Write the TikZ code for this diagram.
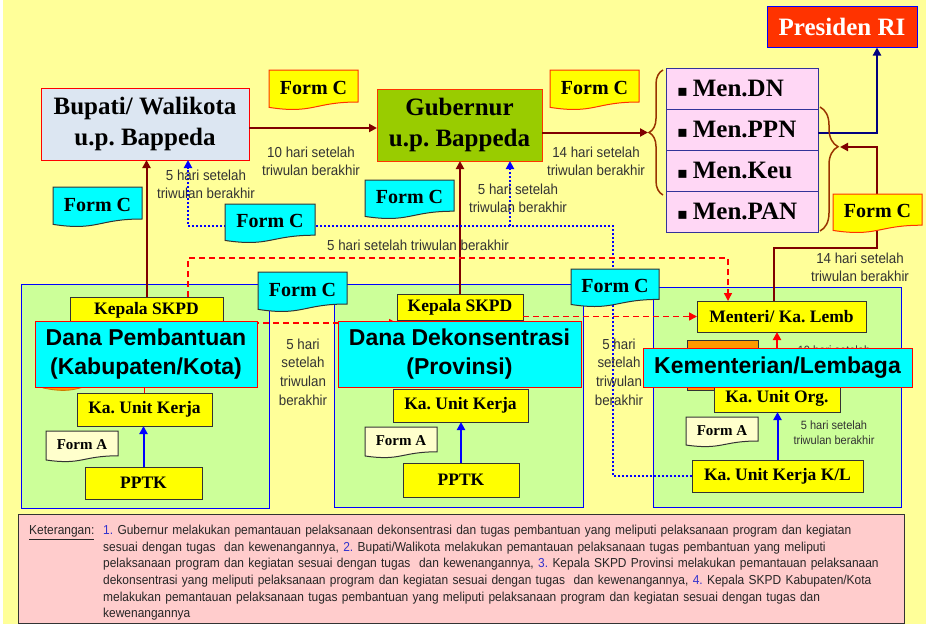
\documentclass[tikz,border=0pt]{standalone}
\usepackage{fontspec}
\setmainfont{Liberation Serif}
\newfontfamily\arialb{Liberation Sans}
\newfontfamily\narrowf[FakeStretch=0.92]{Liberation Sans}
\newfontfamily\dejavu{DejaVu Sans}
\usetikzlibrary{arrows.meta,decorations.pathreplacing,calc}
\frenchspacing

\definecolor{bgyellow}{HTML}{FFFF99}
\definecolor{maroonc}{HTML}{800000}
\definecolor{navyc}{HTML}{000080}
\definecolor{menedge}{HTML}{333399}
\definecolor{bupfill}{HTML}{DCE6F2}
\definecolor{gubfill}{HTML}{99CC00}
\definecolor{presfill}{HTML}{FF3300}
\definecolor{menpink}{HTML}{FFD7F5}
\definecolor{yel}{HTML}{FFFF00}
\definecolor{cyanc}{HTML}{00FFFF}
\definecolor{formafill}{HTML}{FFFFCC}
\definecolor{panelgreen}{HTML}{CCFF99}
\definecolor{orangeb}{HTML}{FF9900}
\definecolor{ketpink}{HTML}{FFCCCC}
\definecolor{boxedge}{HTML}{333333}
\definecolor{formcedge}{HTML}{FF3300}
\definecolor{lblgray}{HTML}{333333}
\definecolor{numblue}{HTML}{3333CC}
\definecolor{bracecol}{HTML}{993300}

% document shape: style, x1, y1, x2, y2
\newcommand{\docpath}[5]{%
  \path[#1] (#2,#3) -- (#4,#3) -- (#4,{#3+0.8*(#5-#3)})
    .. controls ({(#2+#4)/2},{#3+0.8*(#5-#3)}) and ({(#2+#4)/2},{#3+1.107*(#5-#3)}) ..
    (#2,{#3+0.934*(#5-#3)}) -- cycle;}
% name, shape style, text style, x1, y1, x2, y2, text
\newcommand{\docnode}[8]{%
  \docpath{#2}{#4}{#5}{#6}{#7}
  \node[#3] (#1) at ({(#4+#6)/2},{#5+0.44*(#7-#5)}) {#8};}
\newcommand{\ketind}{\hspace*{74pt}}

\begin{document}
\begin{tikzpicture}[x=1pt,y=-1pt,
  tip/.style={-{Triangle[length=8pt,width=8pt]}},
  box/.style={inner sep=0pt, outer sep=0pt, align=center},
  topbox/.style={box, line width=1pt, font=\bfseries\fontsize{25}{31}\selectfont},
  ybox/.style={box, draw=boxedge, fill=yel, line width=1pt, font=\bfseries\fontsize{17.5}{20}\selectfont},
  danabox/.style={box, draw=red, fill=cyanc, line width=1pt, font=\arialb\bfseries\fontsize{23}{29}\selectfont},
  panel/.style={box, draw=blue, fill=panelgreen, line width=1pt},
  menbox/.style={box, draw=menedge, fill=menpink, line width=1pt, minimum height=41pt,
     text width=130pt, inner xsep=11pt, align=left, font=\bfseries\fontsize{25}{30}\selectfont},
  fcy/.style={draw=formcedge, fill=yel, line width=1pt},
  fcc/.style={draw=boxedge, fill=cyanc, line width=1pt},
  fa/.style={draw=boxedge, fill=formafill, line width=1pt},
  fctext/.style={inner sep=0pt, font=\bfseries\fontsize{20}{24}\selectfont},
  fatext/.style={inner sep=0pt, font=\bfseries\fontsize{15}{18}\selectfont},
  lbl/.style={inner sep=0pt, text=lblgray, align=center, font=\narrowf\fontsize{14.5}{18}\selectfont},
  slbl/.style={inner sep=0pt, text=lblgray, align=center, font=\narrowf\fontsize{12}{15}\selectfont},
  darrow/.style={draw=maroonc, line width=2pt},
  narrow/.style={draw=navyc, line width=2pt},
  barrow/.style={draw=blue, line width=2pt},
  rdash/.style={draw=red, line width=1.5pt, dash pattern=on 6pt off 4pt},
  bdot/.style={draw=blue, line width=2pt, dash pattern=on 2pt off 2pt},
  bracest/.style={draw=bracecol, line width=1.5pt, decorate}
]
\useasboundingbox (0,0) rectangle (926,624);
\fill[white] (0,0) rectangle (926,624);
\fill[bgyellow] (3,0) rectangle (926,624);

% panels
\node[panel, minimum width=248pt, minimum height=224pt] (pL) at (145,396) {};
\node[panel, minimum width=249pt, minimum height=223pt] (pM) at (458.5,395.5) {};
\node[panel, minimum width=248pt, minimum height=220pt] (pR) at (777,397) {};

% keterangan
\node[draw=boxedge, fill=ketpink, line width=1pt, minimum width=886pt, minimum height=109pt, inner sep=0pt] (ket) at (461,568.5) {};
\node[anchor=north west, inner sep=0pt, text width=870pt, align=left, text=black!85,
  font=\narrowf\fontsize{13}{16.6}\selectfont] (ketbody) at (29,525)
  {\makebox[74pt][l]{\underline{Keterangan:}}{\color{numblue}1.} Gubernur melakukan pemantauan pelaksanaan dekonsentrasi dan tugas pembantuan yang meliputi pelaksanaan program dan kegiatan\\
   \ketind sesuai dengan tugas\ \ dan kewenangannya, {\color{numblue}2.} Bupati/Walikota melakukan pemantauan pelaksanaan tugas pembantuan yang meliputi\\
   \ketind pelaksanaan program dan kegiatan sesuai dengan tugas\ \ dan kewenangannya, {\color{numblue}3.} Kepala SKPD Provinsi melakukan pemantauan pelaksanaan\\
   \ketind dekonsentrasi yang meliputi pelaksanaan program dan kegiatan sesuai dengan tugas\ \ dan kewenangannya, {\color{numblue}4.} Kepala SKPD Kabupaten/Kota\\
   \ketind melakukan pemantauan pelaksanaan tugas pembantuan yang meliputi pelaksanaan program dan kegiatan sesuai dengan tugas dan\\
   \ketind kewenangannya};

% main boxes (top)
\node[topbox, draw=blue, fill=presfill, text=white, minimum width=150pt, minimum height=41pt] (pres) at (842,27) {Presiden RI};
\node[topbox, draw=red, fill=bupfill, minimum width=208pt, minimum height=72pt] (bup) at (145,124) {Bupati/ Walikota\\u.p. Bappeda};
\node[topbox, draw=formcedge, fill=gubfill, minimum width=165pt, minimum height=72pt] (gub) at (459.5,125) {Gubernur\\u.p. Bappeda};
\node[menbox] (mdn) at (742,88.5) {{\dejavu\fontsize{16}{16}\selectfont ▪}\hspace{5pt}Men.DN};
\node[menbox] (mppn) at (742,129.5) {{\dejavu\fontsize{16}{16}\selectfont ▪}\hspace{5pt}Men.PPN};
\node[menbox] (mkeu) at (742,170.5) {{\dejavu\fontsize{16}{16}\selectfont ▪}\hspace{5pt}Men.Keu};
\node[menbox] (mpan) at (742,211.5) {{\dejavu\fontsize{16}{16}\selectfont ▪}\hspace{5pt}Men.PAN};

\coordinate (lbtip) at (648,132.5);
\coordinate (rbtip) at (840,147);
\coordinate (mcorner) at (877,248);
\coordinate (dotc) at (613,226);
\coordinate (dotb) at (510,226);

% lower boxes needed for connectors
\node[ybox, minimum width=153pt, minimum height=26pt] (ksL) at (146.5,310) {Kepala SKPD};
\node[ybox, minimum width=126pt, minimum height=26pt] (ksM) at (460,307) {Kepala SKPD};
\node[ybox, minimum width=169pt, minimum height=31pt] (menteri) at (781.5,316.5) {Menteri/ Ka. Lemb};
\node[ybox, minimum width=171pt, minimum height=32pt] (kukKL) at (777.5,476) {Ka. Unit Kerja K/L};

% connectors
\draw[darrow, tip] ([yshift=-4pt]bup.east) -- ([yshift=-4pt]bup.east -| gub.west);
\draw[darrow, tip] (gub.east |- lbtip) -- (lbtip);
\draw[narrow, tip] ([yshift=-3.5pt]mppn.east) -| ([xshift=35pt]pres.south);
\draw[darrow, tip] ([xshift=-7.5pt]menteri.north) |- (mcorner) |- (rbtip);
\draw[darrow, tip] (ksL.north) -- (ksL.north |- bup.south);
\draw[darrow, tip] (ksM.north) -- (ksM.north |- gub.south);
\draw[bdot, tip] (kukKL.west) -| (dotc) -| ([xshift=43pt]bup.south);
\draw[bdot, tip] (dotb) -- ([xshift=50.5pt]gub.south);
\draw[rdash, tip] ([xshift=41.5pt]ksL.north) -- ++(0,-39) -| ([xshift=-53.5pt]menteri.north);
\draw[rdash, tip] (ksL.south east) -- (ksL.south east -| ksM.west);
\draw[rdash, tip] (menteri.west -| ksM.east) -- (menteri.west);

% partly hidden things
\docpath{fill=orangeb, draw=orangeb!80!black, line width=0.8pt}{43}{345}{118}{391}
\node[box, draw=boxedge, fill=orangeb, line width=0.8pt, minimum width=71pt, minimum height=50pt] (orR) at (722.5,365) {};
\node[slbl] (lbl10) at (834,350) {10 hari setelah};

% remaining lower boxes
\node[ybox, minimum width=135pt, minimum height=33pt] (kukL) at (144.5,409.5) {Ka. Unit Kerja};
\node[ybox, minimum width=135pt, minimum height=33pt] (kukM) at (460.5,405.5) {Ka. Unit Kerja};
\node[ybox, minimum width=126pt, minimum height=28pt] (kuo) at (777,398) {Ka. Unit Org.};
\node[ybox, minimum width=117pt, minimum height=32pt] (pptkL) at (143.5,483) {PPTK};
\node[ybox, minimum width=116pt, minimum height=34pt] (pptkM) at (461,480) {PPTK};

\draw[barrow, tip] (pptkL.north) -- (pptkL.north |- kukL.south);
\draw[barrow, tip] (pptkM.north) -- (pptkM.north |- kukM.south);
\draw[barrow, tip] (kukKL.north) -- (kukKL.north |- kuo.south);
\draw[draw=red, line width=2pt, tip] (kuo.north) -- (kuo.north |- menteri.south);
\draw[rdash] (kukL.north) -- (kukL.north |- ksL.south);

\docnode{faL}{fa}{fatext}{46}{431}{118}{462}{Form A}
\docnode{faM}{fa}{fatext}{365}{427}{437}{458}{Form A}
\docnode{faR}{fa}{fatext}{686}{417}{758}{447}{Form A}

% title boxes of panels
\node[danabox, minimum width=222pt, minimum height=66pt] (danaP) at (146,354) {Dana Pembantuan\\(Kabupaten/Kota)};
\node[danabox, minimum width=243pt, minimum height=66pt] (danaD) at (459.5,354) {Dana Dekonsentrasi\\(Provinsi)};
\node[danabox, minimum width=269pt, minimum height=39pt] (kem) at (777.5,367.5) {Kementerian/Lembaga};

% Form C documents
\docnode{fc1}{fcy}{fctext}{269}{70}{358}{110}{Form C}
\docnode{fc2}{fcy}{fctext}{550}{70}{639}{110}{Form C}
\docnode{fc3}{fcc}{fctext}{53}{187}{142}{227}{Form C}
\docnode{fc4}{fcc}{fctext}{225}{204}{315}{243}{Form C}
\docnode{fc5}{fcc}{fctext}{365}{180}{454}{219}{Form C}
\docnode{fc6}{fcy}{fctext}{833}{194}{922}{233}{Form C}
\docnode{fc7}{fcc}{fctext}{258}{272}{347}{312}{Form C}
\docnode{fc8}{fcc}{fctext}{571}{269}{659}{307}{Form C}

% braces
\draw[bracest, decoration={brace, amplitude=14pt, aspect=0.5}] (663,195) -- (663,70);
\draw[bracest, decoration={brace, amplitude=18pt, aspect=0.32}] (820,107) -- (820,231);

% labels
\node[lbl] (l1) at (311,161) {10 hari setelah\\triwulan berakhir};
\node[lbl] (l2) at (596,161) {14 hari setelah\\triwulan berakhir};
\node[lbl] (l3) at (206,184) {5 hari setelah\\triwulan berakhir};
\node[lbl] (l4) at (518,198.5) {5 hari setelah\\triwulan berakhir};
\node[lbl] (l5) at (418,245) {5 hari setelah triwulan berakhir};
\node[lbl] (l6) at (860,267.5) {14 hari setelah\\triwulan berakhir};
\node[lbl, font=\narrowf\fontsize{14.5}{18.7}\selectfont] (l7) at (303,372) {5 hari\\setelah\\triwulan\\berakhir};
\node[lbl, font=\narrowf\fontsize{14.5}{18.7}\selectfont] (l8) at (619,372) {5 hari\\setelah\\triwulan\\berakhir};
\node[slbl] (l9) at (834,432.5) {5 hari setelah\\triwulan berakhir};
\end{tikzpicture}
\end{document}
